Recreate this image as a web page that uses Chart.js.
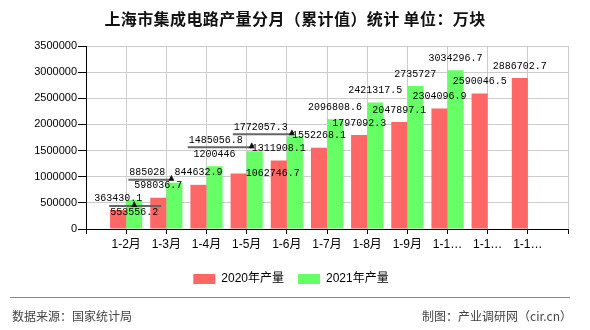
<!DOCTYPE html>
<html lang="zh-CN">
<head>
<meta charset="UTF-8">
<title>上海市集成电路产量分月（累计值）统计</title>
<script src="https://cdn.jsdelivr.net/npm/chart.js"></script>
<style>
  body { margin: 0; background: #fff; }
  #wrap { position: relative; width: 590px; height: 330px; font-family: "Noto Sans CJK SC", sans-serif; }
  #chart { position: absolute; left: 0; top: 0; }
  #title { position: absolute; left: 0; top: 8px; width: 590px; line-height: 20px; text-align: center;
           font-size: 16px; font-weight: bold; letter-spacing: 0.4px; color: #111; }
  #rule { position: absolute; left: 10px; top: 297px; width: 560px; height: 1px; background: #888; }
  .foot { position: absolute; top: 308px; line-height: 16px; font-size: 12px; color: #444; }
</style>
</head>
<body>
<div id="wrap">
  <canvas id="chart" width="590" height="330"></canvas>
  <div id="title">上海市集成电路产量分月（累计值）统计 单位：万块</div>
  <div id="rule"></div>
  <div class="foot" style="left:12px">数据来源：国家统计局</div>
  <div class="foot" style="right:18px">制图：产业调研网（cir.cn）</div>
</div>
<script>
const categories = ['1-2月', '1-3月', '1-4月', '1-5月', '1-6月', '1-7月', '1-8月', '1-9月', '1-10月', '1-11月', '1-12月'];
const output2020 = [363430.1, 598036.7, 844632.9, 1062746.7, 1311908.1, 1552268.1, 1797092.3, 2047897.1, 2304096.9, 2590046.5, 2886702.7];
const output2021 = [553556.2, 885028, 1200446, 1485056.8, 1772057.3, 2096808.6, 2421317.5, 2735727, 3034296.7];
const yTicks = [0, 500000, 1000000, 1500000, 2000000, 2500000, 3000000, 3500000];

// where each value label sits relative to its bar top, and whether it gets a leader line
const offsets2020 = [[0, -12], [0, -12], [0, -12], [34, 0], [0, -12], [0, -12], [0, -12], [0, -12], [0, -12], [0, -12], [0, -12]];
const offsets2021 = [[0, 12], [-27, -10], [0, -12], [-39, -11], [-34, -9], [0, -12], [0, -12], [0, -12], [0, -12]];
const leaders2021 = [true, true, false, true, true, false, false, false, false];

// one empty slot at each end, like the original
const labels = ['', ...categories, ''];
const pad = arr => [null, ...arr, ...Array(categories.length - arr.length).fill(null), null];

const valueLabels = {
  id: 'valueLabels',
  afterDatasetsDraw(chart) {
    const ctx = chart.ctx;
    const styles = [[offsets2020, []], [offsets2021, leaders2021]];
    ctx.save();
    ctx.font = '10px "Liberation Mono", monospace';
    ctx.textAlign = 'center';
    ctx.textBaseline = 'middle';
    chart.data.datasets.forEach((ds, d) => {
      const meta = chart.getDatasetMeta(d);
      const [offs, leads] = styles[d];
      meta.data.forEach((el, j) => {
        const v = ds.data[j];
        if (v == null) return;
        const i = j - 1;
        const lx = el.x + offs[i][0];
        const ly = el.y + offs[i][1];
        const txt = String(v);
        if (leads[i]) {
          const w = ctx.measureText(txt).width;
          const below = offs[i][1] > 0;
          const lineY = below ? ly - 6 : ly + 7;
          const endX = below ? lx + w / 2 + 3 : el.x - 1;
          ctx.strokeStyle = '#666';
          ctx.lineWidth = 2;
          ctx.beginPath();
          ctx.moveTo(lx - w / 2 - 1, lineY);
          ctx.lineTo(endX, lineY);
          ctx.stroke();
          const ax = below ? el.x : endX - 2;
          ctx.fillStyle = '#111';
          ctx.beginPath();
          ctx.moveTo(ax, lineY - 5);
          ctx.lineTo(ax - 3, lineY + 1);
          ctx.lineTo(ax + 3, lineY + 1);
          ctx.closePath();
          ctx.fill();
        }
        ctx.fillStyle = '#000';
        ctx.fillText(txt, lx, ly);
      });
    });
    ctx.restore();
  }
};

new Chart(document.getElementById('chart'), {
  type: 'bar',
  data: {
    labels: labels,
    datasets: [
      { label: '2020年产量', data: pad(output2020), backgroundColor: '#ff6666' },
      { label: '2021年产量', data: pad(output2021), backgroundColor: '#66ff66' }
    ]
  },
  options: {
    responsive: false,
    animation: false,
    categoryPercentage: 0.8,
    barPercentage: 1,
    layout: { padding: { left: 14, right: 22, top: 46, bottom: 35 } },
    plugins: {
      tooltip: { enabled: false },
      legend: {
        position: 'bottom',
        labels: {
          boxWidth: 22, boxHeight: 10, padding: 14, color: '#000',
          font: { size: 12, family: '"Liberation Sans", "Noto Sans CJK SC", sans-serif' }
        }
      }
    },
    scales: {
      x: {
        offset: false,
        grid: { offset: false, color: '#ccc', tickColor: '#000', tickLength: 5 },
        border: { color: '#000' },
        ticks: {
          autoSkip: false, maxRotation: 0, color: '#000', padding: 3,
          font: { size: 12, family: '"Liberation Sans", "Noto Sans CJK SC", sans-serif' },
          callback(value) {
            const s = this.getLabelForValue(value);
            return s.length > 4 ? s.slice(0, 3) + '…' : s;
          }
        },
        afterFit(scale) { scale.height = 30; }
      },
      y: {
        min: 0, max: 3500000,
        grid: { color: '#ccc', tickColor: '#000', tickLength: 8 },
        border: { color: '#000' },
        ticks: {
          color: '#000', padding: 1,
          font: { size: 11, family: '"Liberation Sans", sans-serif' },
          callback: v => String(v)
        },
        afterBuildTicks(scale) { scale.ticks = yTicks.map(v => ({ value: v })); },
        afterFit(scale) { scale.width = 72; }
      }
    }
  },
  plugins: [valueLabels]
});
</script>
</body>
</html>
